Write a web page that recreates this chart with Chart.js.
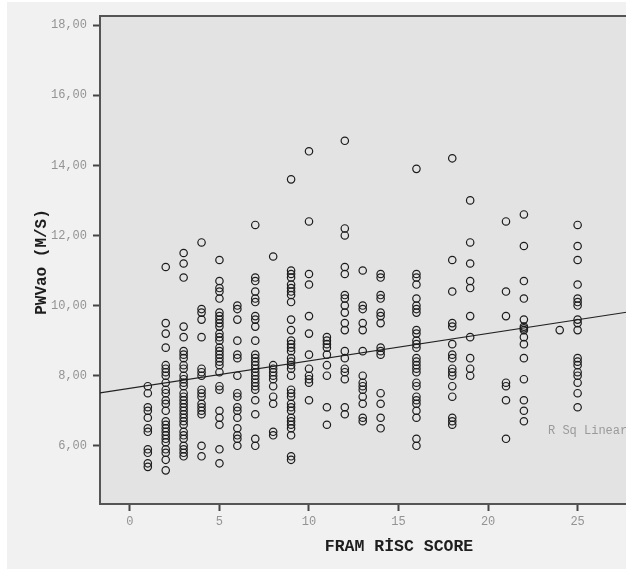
<!DOCTYPE html>
<html>
<head>
<meta charset="utf-8">
<script src="https://cdn.jsdelivr.net/npm/chart.js@4.4.1/dist/chart.umd.min.js"></script>
<style>
  html, body { margin: 0; padding: 0; overflow: hidden; background: #ffffff; }
  #wrap { width: 700px; height: 572px; }
</style>
</head>
<body>
<div id="wrap"><canvas id="c" width="700" height="572"></canvas></div>
<script>
// FRAM risk score categories (x) and PWVao values (y) observed at each score
const riskScores = [1, 2, 3, 4, 5, 6, 7, 8, 9, 10, 11, 12, 13, 14, 16, 18, 19, 21, 22, 24, 25];
const pwvAtScore1  = [7.7, 7.5, 7.1, 7.0, 6.8, 6.5, 6.4, 5.9, 5.8, 5.5, 5.4];
const pwvAtScore2  = [11.1, 9.5, 9.2, 8.8, 8.3, 8.2, 8.1, 8.0, 7.8, 7.6, 7.5, 7.3, 7.2, 7.0, 6.7, 6.6, 6.5, 6.4, 6.3, 6.2, 6.1, 5.9, 5.8, 5.6, 5.3];
const pwvAtScore3  = [11.5, 11.2, 10.8, 9.4, 9.1, 8.7, 8.6, 8.5, 8.3, 8.2, 8.0, 7.9, 7.8, 7.7, 7.5, 7.4, 7.3, 7.2, 7.1, 7.0, 6.9, 6.8, 6.7, 6.6, 6.4, 6.3, 6.2, 6.0, 5.9, 5.8, 5.7];
const pwvAtScore4  = [11.8, 9.9, 9.8, 9.6, 9.1, 8.2, 8.1, 8.0, 7.6, 7.5, 7.4, 7.2, 7.1, 7.0, 6.9, 6.0, 5.7];
const pwvAtScore5  = [11.3, 10.7, 10.5, 10.4, 10.2, 9.8, 9.7, 9.6, 9.5, 9.4, 9.2, 9.1, 9.0, 8.8, 8.7, 8.6, 8.5, 8.4, 8.3, 8.1, 7.7, 7.6, 7.0, 6.8, 6.6, 5.9, 5.5];
const pwvAtScore6  = [10.0, 9.9, 9.6, 9.0, 8.6, 8.5, 8.0, 7.5, 7.4, 7.1, 7.0, 6.8, 6.5, 6.3, 6.2, 6.0];
const pwvAtScore7  = [12.3, 10.8, 10.7, 10.4, 10.2, 10.1, 9.7, 9.6, 9.4, 9.0, 8.6, 8.5, 8.4, 8.3, 8.2, 8.1, 8.0, 7.9, 7.8, 7.7, 7.6, 7.3, 6.9, 6.2, 6.0];
const pwvAtScore8  = [11.4, 8.3, 8.2, 8.1, 8.0, 7.9, 7.7, 7.4, 7.2, 6.4, 6.3];
const pwvAtScore9  = [13.6, 11.0, 10.9, 10.8, 10.6, 10.5, 10.4, 10.3, 10.1, 9.6, 9.3, 9.0, 8.9, 8.8, 8.7, 8.5, 8.4, 8.3, 8.2, 8.0, 7.6, 7.5, 7.4, 7.2, 7.1, 7.0, 6.8, 6.7, 6.6, 6.5, 6.3, 5.7, 5.6];
const pwvAtScore10 = [14.4, 12.4, 10.9, 10.6, 9.7, 9.2, 8.6, 8.2, 8.0, 7.9, 7.8, 7.3];
const pwvAtScore11 = [9.1, 9.0, 8.9, 8.8, 8.6, 8.3, 8.0, 7.1, 6.6];
const pwvAtScore12 = [14.7, 12.2, 12.0, 11.1, 10.9, 10.3, 10.2, 10.0, 9.8, 9.5, 9.3, 8.7, 8.5, 8.2, 8.1, 7.9, 7.1, 6.9];
const pwvAtScore13 = [11.0, 10.0, 9.9, 9.5, 9.3, 8.7, 8.0, 7.8, 7.7, 7.6, 7.4, 7.2, 6.8, 6.7];
const pwvAtScore14 = [10.9, 10.8, 10.3, 10.2, 9.8, 9.7, 9.5, 8.8, 8.7, 8.6, 7.5, 7.2, 6.8, 6.5];
const pwvAtScore16 = [13.9, 10.9, 10.8, 10.6, 10.2, 10.0, 9.9, 9.8, 9.3, 9.2, 9.0, 8.9, 8.8, 8.5, 8.4, 8.3, 8.2, 8.1, 7.8, 7.7, 7.4, 7.3, 7.2, 7.0, 6.8, 6.2, 6.0];
const pwvAtScore18 = [14.2, 11.3, 10.4, 9.5, 9.4, 8.9, 8.6, 8.5, 8.2, 8.1, 8.0, 7.7, 7.4, 6.8, 6.7, 6.6];
const pwvAtScore19 = [13.0, 11.8, 11.2, 10.7, 10.5, 9.7, 9.1, 8.5, 8.2, 8.0];
const pwvAtScore21 = [12.4, 10.4, 9.7, 7.8, 7.7, 7.3, 6.2];
const pwvAtScore22 = [12.6, 11.7, 10.7, 10.2, 9.6, 9.4, 9.35, 9.3, 9.1, 8.9, 8.5, 7.9, 7.3, 7.0, 6.7];
const pwvAtScore24 = [9.3];
const pwvAtScore25 = [12.3, 11.7, 11.3, 10.6, 10.2, 10.1, 10.0, 9.6, 9.5, 9.3, 8.5, 8.4, 8.3, 8.1, 8.0, 7.8, 7.5, 7.1];

// Fit line (R Sq Linear) endpoints
const fitLineX = [-1.67, 31.56];
const fitLineY = [7.51, 10.11];

// Axis ticks and texts
const xTickValues = [0, 5, 10, 15, 20, 25, 30];
const yTickValues = [6, 8, 10, 12, 14, 16, 18];
const xAxisTitle = 'FRAM RİSC SCORE';
const yAxisTitle = 'PWVao (M/S)';
const fitLabel = 'R Sq Linear';

const pwvColumns = [pwvAtScore1, pwvAtScore2, pwvAtScore3, pwvAtScore4, pwvAtScore5, pwvAtScore6,
  pwvAtScore7, pwvAtScore8, pwvAtScore9, pwvAtScore10, pwvAtScore11, pwvAtScore12, pwvAtScore13,
  pwvAtScore14, pwvAtScore16, pwvAtScore18, pwvAtScore19, pwvAtScore21, pwvAtScore22, pwvAtScore24, pwvAtScore25];

const scatterPoints = [];
riskScores.forEach((s, i) => pwvColumns[i].forEach(v => scatterPoints.push({ x: s, y: v })));
const fitPoints = fitLineX.map((x, i) => ({ x: x, y: fitLineY[i] }));

const fmtComma = v => v.toFixed(2).replace('.', ',');

const framePlugin = {
  id: 'frame',
  beforeDraw(chart) {
    const ctx = chart.ctx, a = chart.chartArea;
    ctx.save();
    ctx.fillStyle = '#ffffff';
    ctx.fillRect(0, 0, chart.width, chart.height);
    ctx.fillStyle = '#f1f1f1';
    ctx.fillRect(7, 2, chart.width - 7, 567);
    ctx.fillStyle = '#e3e3e3';
    ctx.fillRect(a.left, a.top, a.right - a.left, a.bottom - a.top);
    ctx.restore();
  },
  afterDraw(chart) {
    const ctx = chart.ctx, a = chart.chartArea;
    ctx.save();
    ctx.strokeStyle = '#555555';
    ctx.lineWidth = 2;
    ctx.beginPath();
    ctx.moveTo(a.left, a.top);
    ctx.lineTo(a.right, a.top);
    ctx.stroke();
    // fit label
    ctx.fillStyle = '#9a9a9a';
    ctx.font = "12px 'Liberation Mono'";
    ctx.textBaseline = 'middle';
    ctx.textAlign = 'left';
    ctx.fillText(fitLabel, 548, 431);
    // axis titles
    ctx.fillStyle = '#1e1e1e';
    ctx.textAlign = 'center';
    ctx.font = "bold 16.5px 'Liberation Mono'";
    ctx.fillText(xAxisTitle, 399, 547);
    ctx.font = "bold 16px 'Liberation Mono'";
    ctx.translate(42, 262);
    ctx.rotate(-Math.PI / 2);
    ctx.fillText(yAxisTitle, 0, 0);
    ctx.restore();
  }
};

new Chart(document.getElementById('c'), {
  type: 'scatter',
  data: {
    datasets: [
      {
        label: 'PWVao',
        data: scatterPoints,
        pointStyle: 'circle',
        pointRadius: 3.7,
        pointHoverRadius: 3.7,
        pointBorderWidth: 1.2,
        pointBorderColor: '#1c1c1c',
        pointBackgroundColor: 'rgba(0,0,0,0)',
        showLine: false
      },
      {
        label: 'Fit',
        type: 'line',
        data: fitPoints,
        borderColor: '#222222',
        borderWidth: 1.2,
        pointRadius: 0,
        fill: false,
        tension: 0
      }
    ]
  },
  options: {
    responsive: false,
    animation: false,
    events: [],
    layout: { padding: { left: 0, top: 16, right: 2, bottom: 0 } },
    plugins: { legend: { display: false }, tooltip: { enabled: false }, title: { display: false } },
    scales: {
      x: {
        type: 'linear',
        min: -1.67,
        max: 31.56,
        afterBuildTicks: s => { s.ticks = xTickValues.map(v => ({ value: v })); },
        afterFit: s => { s.height = 68; },
        grid: { display: true, drawOnChartArea: false, drawTicks: true, tickLength: 7, tickColor: '#444444', tickWidth: 2 },
        border: { display: true, color: '#555555', width: 2 },
        ticks: { color: '#939393', font: { family: 'Liberation Mono', size: 12 }, padding: 4, maxRotation: 0, autoSkip: false,
                 callback: v => String(v) }
      },
      y: {
        type: 'linear',
        min: 4.34,
        max: 18.26,
        afterBuildTicks: s => { s.ticks = yTickValues.map(v => ({ value: v })); },
        afterFit: s => { s.width = 100; },
        grid: { display: true, drawOnChartArea: false, drawTicks: true, tickLength: 7, tickColor: '#444444', tickWidth: 2 },
        border: { display: true, color: '#555555', width: 2 },
        ticks: { color: '#939393', font: { family: 'Liberation Mono', size: 12 }, padding: 6, autoSkip: false,
                 callback: v => fmtComma(v) }
      }
    }
  },
  plugins: [framePlugin]
});
</script>
</body>
</html>
